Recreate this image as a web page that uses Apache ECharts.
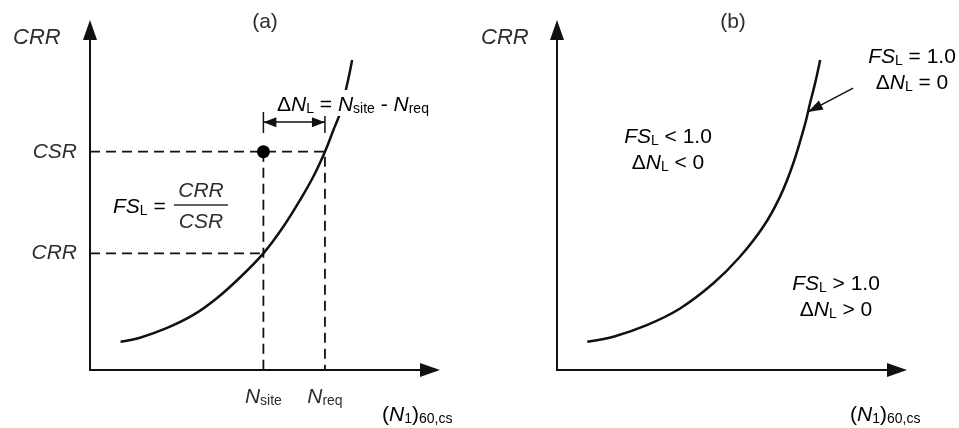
<!DOCTYPE html>
<html>
<head>
<meta charset="utf-8">
<script src="https://cdn.jsdelivr.net/npm/echarts@6/dist/echarts.min.js"></script>
<style>html,body{margin:0;padding:0;background:#fff;}#c{width:959px;height:428px;}</style>
</head>
<body>
<div id="c"></div>
<script>
// ---- data (axis units 0..100) ----
const curveAX = [9.0, 14.7, 22.5, 30.4, 37.3, 44.1, 51.0, 56.9, 61.8, 65.7, 69.1, 71.6, 73.5, 75.8, 77.1];
const curveAY = [8.3, 9.5, 12.3, 16.2, 21.1, 27.2, 34.3, 42.2, 50.0, 56.9, 64.2, 70.6, 75.5, 84.8, 91.2];
const nSite = 51.0, nReq = 69.1, csrVal = 64.2, crrVal = 34.3;
const deltaArrowY = 72.9, deltaTickLo = 69.7, deltaTickHi = 75.9;
const curveBX = [8.9, 16.6, 26.4, 36.2, 46.0, 53.8, 60.7, 65.6, 69.5, 73.0, 74.4, 75.9, 77.4];
const curveBY = [8.3, 9.8, 13.2, 18.1, 25.5, 33.3, 42.2, 51.0, 60.8, 72.5, 78.4, 84.3, 91.2];
const pointerFrom = [87.1, 82.9], pointerTo = [73.8, 75.9];
const yTickLabels = {csr: 'CSR', crr: 'CRR'};

const INK = '#111';
const TXT = '#2e2e2e';
const FONT = 'Liberation Sans, Arial, sans-serif';

const pairs = (xs, ys) => xs.map((x, i) => [x, ys[i]]);

const rich = {
  i: {fontFamily: FONT, fontStyle: 'italic', fontSize: 21, color: TXT, verticalAlign: 'bottom', lineHeight: 26},
  n: {fontFamily: FONT, fontSize: 21, color: TXT, verticalAlign: 'bottom', lineHeight: 26},
  s: {fontFamily: FONT, fontSize: 14, color: TXT, verticalAlign: 'bottom', lineHeight: 22}
};

function axisLineStyle() {
  return {show: true, onZero: false, symbol: ['none', 'triangle'], symbolSize: [14, 20],
          lineStyle: {color: INK, width: 2}};
}

const option = {
  backgroundColor: '#fff',
  animation: false,
  grid: [
    {left: 90, top: 30, width: 340, height: 340, containLabel: false},
    {left: 557, top: 30, width: 340, height: 340, containLabel: false}
  ],
  xAxis: [
    {type: 'value', gridIndex: 0, min: 0, max: 100, axisLine: axisLineStyle(), axisTick: {show: false},
     splitLine: {show: false},
     axisLabel: {customValues: [nSite, nReq], margin: 12, rich: rich,
       formatter: v => v === nSite ? '{i|N}{s|site}' : '{i|N}{s|req}'}},
    {type: 'value', gridIndex: 1, min: 0, max: 100, axisLine: axisLineStyle(), axisTick: {show: false},
     splitLine: {show: false}, axisLabel: {show: false}}
  ],
  yAxis: [
    {type: 'value', gridIndex: 0, min: 0, max: 100, axisLine: axisLineStyle(), axisTick: {show: false},
     splitLine: {show: false},
     axisLabel: {customValues: [crrVal, csrVal], margin: 13, fontFamily: FONT, fontStyle: 'italic',
       fontSize: 21, color: TXT,
       formatter: v => v === csrVal ? yTickLabels.csr : yTickLabels.crr}},
    {type: 'value', gridIndex: 1, min: 0, max: 100, axisLine: axisLineStyle(), axisTick: {show: false},
     splitLine: {show: false}, axisLabel: {show: false}}
  ],
  series: [
    // dashed guides
    {type: 'line', xAxisIndex: 0, yAxisIndex: 0, data: [[0, csrVal], [nReq, csrVal], [nReq, 0]],
     showSymbol: false, silent: true, lineStyle: {color: INK, width: 1.8, type: [10, 6]}},
    {type: 'line', xAxisIndex: 0, yAxisIndex: 0, data: [[0, crrVal], [nSite, crrVal]],
     showSymbol: false, silent: true, lineStyle: {color: INK, width: 1.8, type: [10, 6]}},
    {type: 'line', xAxisIndex: 0, yAxisIndex: 0, data: [[nSite, csrVal], [nSite, 0]],
     showSymbol: false, silent: true, lineStyle: {color: INK, width: 1.8, type: [10, 6]}},
    // curve (a)
    {type: 'line', xAxisIndex: 0, yAxisIndex: 0, data: pairs(curveAX, curveAY), smooth: 0.35,
     showSymbol: false, silent: true, lineStyle: {color: INK, width: 2.5}},
    // site point
    {type: 'scatter', xAxisIndex: 0, yAxisIndex: 0, data: [[nSite, csrVal]], symbolSize: 13,
     itemStyle: {color: '#000', opacity: 1}, silent: true, z: 5},
    // delta N ticks + double arrow
    {type: 'line', xAxisIndex: 0, yAxisIndex: 0,
     data: [[nSite, deltaTickLo], [nSite, deltaTickHi], ['-', '-'], [nReq, deltaTickLo], [nReq, deltaTickHi]],
     showSymbol: false, silent: true, connectNulls: false, lineStyle: {color: INK, width: 1.5},
     markLine: {silent: true, symbol: ['triangle', 'triangle'], symbolSize: [10, 13],
       symbolOffset: [[0, 6.5], [0, 6.5]], label: {show: false},
       lineStyle: {color: INK, width: 1.5, type: 'solid'},
       data: [[{coord: [nSite, deltaArrowY]}, {coord: [nReq, deltaArrowY]}]]}},
    // curve (b)
    {type: 'line', xAxisIndex: 1, yAxisIndex: 1, data: pairs(curveBX, curveBY), smooth: 0.35,
     showSymbol: false, silent: true, lineStyle: {color: INK, width: 2.5},
     markLine: {silent: true, symbol: ['none', 'triangle'], symbolSize: [10, 15],
       symbolOffset: [[0, 0], [0, 7.5]], label: {show: false},
       lineStyle: {color: INK, width: 1.5, type: 'solid'},
       data: [[{coord: pointerFrom}, {coord: pointerTo}]]}}
  ],
  graphic: [
    {type: 'text', x: 265, y: 22, style: {text: '(a)', font: '21px ' + FONT, fill: TXT, align: 'center', verticalAlign: 'middle'}},
    {type: 'text', x: 733, y: 22, style: {text: '(b)', font: '21px ' + FONT, fill: TXT, align: 'center', verticalAlign: 'middle'}},
    {type: 'text', x: 13, y: 38, style: {text: 'CRR', font: 'italic 22px ' + FONT, fill: TXT, align: 'left', verticalAlign: 'middle'}},
    {type: 'text', x: 481, y: 38, style: {text: 'CRR', font: 'italic 22px ' + FONT, fill: TXT, align: 'left', verticalAlign: 'middle'}},
    {type: 'text', x: 382, y: 413, style: {text: '{n|(}{i|N}{s|1}{n|)}{s|60,cs}', rich: rich, align: 'left', verticalAlign: 'middle'}},
    {type: 'text', x: 850, y: 413, style: {text: '{n|(}{i|N}{s|1}{n|)}{s|60,cs}', rich: rich, align: 'left', verticalAlign: 'middle'}},
    // FS = CRR/CSR
    {type: 'text', x: 113, y: 205, style: {text: '{i|FS}{s|L}{n| =}', rich: rich, align: 'left', verticalAlign: 'middle'}},
    {type: 'text', x: 201, y: 191, style: {text: 'CRR', font: 'italic 21px ' + FONT, fill: TXT, align: 'center', verticalAlign: 'middle'}},
    {type: 'text', x: 201, y: 222, style: {text: 'CSR', font: 'italic 21px ' + FONT, fill: TXT, align: 'center', verticalAlign: 'middle'}},
    {type: 'line', shape: {x1: 174, y1: 205, x2: 228, y2: 205}, style: {stroke: TXT, lineWidth: 1.5}},
    // delta N label
    {type: 'text', x: 275, y: 103, z: 100, style: {text: '{n|Δ}{i|N}{s|L}{n| = }{i|N}{s|site}{n| - }{i|N}{s|req}', rich: rich,
      align: 'left', verticalAlign: 'middle', backgroundColor: '#fff', padding: [0, 2, 0, 2]}},
    // panel b notes
    {type: 'text', x: 912, y: 68, style: {text: '{i|FS}{s|L}{n| = 1.0}\n{n|Δ}{i|N}{s|L}{n| = 0}', rich: rich, align: 'center', verticalAlign: 'middle'}},
    {type: 'text', x: 668, y: 148, style: {text: '{i|FS}{s|L}{n| < 1.0}\n{n|Δ}{i|N}{s|L}{n| < 0}', rich: rich, align: 'center', verticalAlign: 'middle'}},
    {type: 'text', x: 836, y: 295, style: {text: '{i|FS}{s|L}{n| > 1.0}\n{n|Δ}{i|N}{s|L}{n| > 0}', rich: rich, align: 'center', verticalAlign: 'middle'}}
  ]
};

const chart = echarts.init(document.getElementById('c'), null, {renderer: 'canvas'});
chart.setOption(option);
</script>
</body>
</html>
